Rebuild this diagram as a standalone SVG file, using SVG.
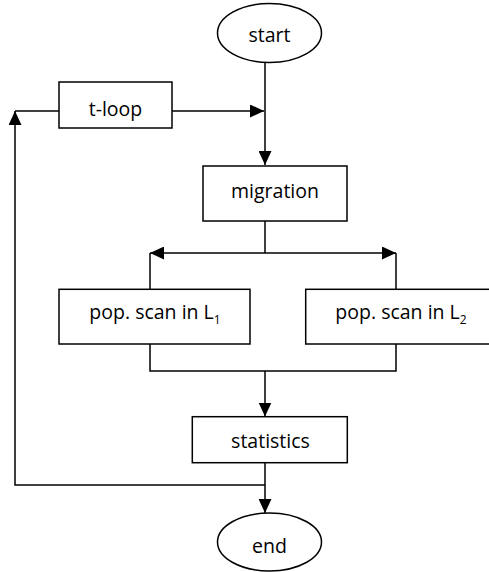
<svg xmlns="http://www.w3.org/2000/svg" width="489" height="572" viewBox="0 0 489 572">
<style>
.shape{fill:#fff;stroke:#000;stroke-width:1.5}
.conn{fill:none;stroke:#000;stroke-width:1.5}
text{font-family:"Open Sans","Noto Sans",sans-serif;font-size:19.5px;fill:#000;text-anchor:middle}
.sub{font-size:12px}
</style>
<defs>
<marker id="arr" markerWidth="14" markerHeight="13" refX="14" refY="6.5" orient="auto" markerUnits="userSpaceOnUse">
<path d="M0,0 L14,6.5 L0,13 Z" fill="#000"/>
</marker>
</defs>
<g id="connectors">
<path class="conn" d="M265,62 V165" marker-end="url(#arr)"/>
<path class="conn" d="M172,111 H264" marker-end="url(#arr)"/>
<path class="conn" d="M59,111 H15"/>
<path class="conn" d="M265,485 H15 V111" marker-end="url(#arr)"/>
<path class="conn" d="M265,221 V253"/>
<path class="conn" d="M265,253 H150" marker-end="url(#arr)"/>
<path class="conn" d="M265,253 H396" marker-end="url(#arr)"/>
<path class="conn" d="M150,253 V289"/>
<path class="conn" d="M396,253 V289"/>
<path class="conn" d="M150,344 V371 H396 V344"/>
<path class="conn" d="M265,371 V416.5" marker-end="url(#arr)"/>
<path class="conn" d="M265,463 V513" marker-end="url(#arr)"/>
</g>
<g id="start">
<ellipse class="shape" cx="269.5" cy="33" rx="52" ry="29.5"/>
<text x="269.5" y="41.7">start</text>
</g>
<g id="tloop">
<rect class="shape" x="59" y="82" width="113" height="46"/>
<text x="115.5" y="116">t-loop</text>
</g>
<g id="migration">
<rect class="shape" x="203" y="166" width="144" height="55"/>
<text x="275" y="198.3">migration</text>
</g>
<g id="scanL1">
<rect class="shape" x="59" y="289.3" width="191" height="54.7"/>
<text x="155" y="319.3">pop. scan in L<tspan class="sub" dy="5">1</tspan></text>
</g>
<g id="scanL2">
<rect class="shape" x="305.7" y="289.3" width="186" height="54.7"/>
<text x="401" y="319.3">pop. scan in L<tspan class="sub" dy="5">2</tspan></text>
</g>
<g id="statistics">
<rect class="shape" x="192.3" y="416.7" width="155" height="46"/>
<text x="270.5" y="448.3">statistics</text>
</g>
<g id="end">
<ellipse class="shape" cx="269.5" cy="542" rx="52" ry="29"/>
<text x="269.5" y="552.7">end</text>
</g>
</svg>
